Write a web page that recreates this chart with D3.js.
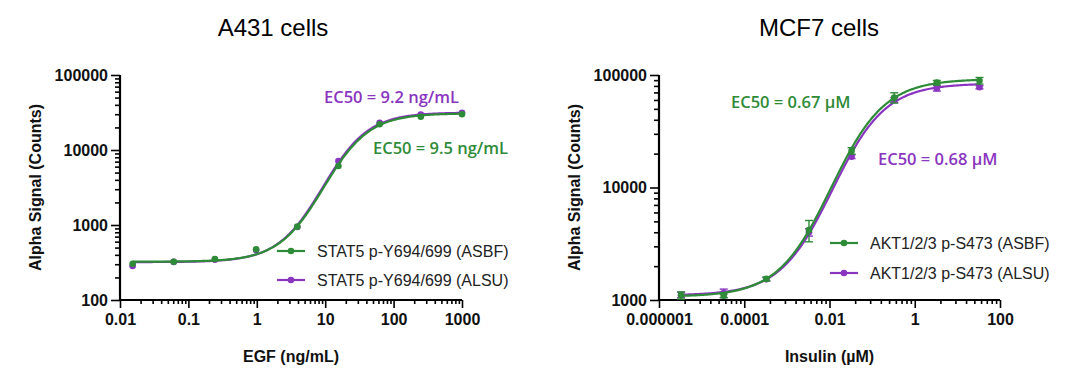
<!DOCTYPE html>
<html><head><meta charset="utf-8">
<script src="https://cdn.jsdelivr.net/npm/d3@7"></script>
<style>
body{margin:0;background:#fff}
svg{display:block}
</style></head><body>
<svg id="chart" width="1080" height="381"></svg>
<script>
// A431 panel
const egfDose = [0.0153, 0.061, 0.244, 0.977, 3.91, 15.6, 62.5, 250, 1000]
const stat5Asbf = [305, 324, 352, 474, 950, 6120, 22000, 27800, 29900]
const stat5Alsu = [285, 322, 345, 465, 940, 7130, 23100, 29800, 31400]
// fitted curve params [bottom, top, mid, hill], fit was done on log signal
const stat5AsbfFit = [324, 30800, 9.5, 1.3]
const stat5AlsuFit = [320, 31600, 9.2, 1.3]
const egfTicks = [0.01, 0.1, 1, 10, 100, 1000]
const a431YTicks = [100, 1000, 10000, 100000]

// MCF7 panel
const insulinDose = [3.3e-6, 3.3e-5, 3.3e-4, 3.3e-3, 0.033, 0.33, 3.3, 33]
const aktAsbf = [1100, 1090, 1540, 4190, 21200, 62900, 85500, 89000]
const aktAsbfSd = [80, 40, 60, 900, 1400, 6600, 3900, 6000]
const aktAlsu = [1110, 1150, 1530, 4000, 18800, 60000, 76200, 77800]
const aktAlsuSd = [60, 100, 50, 300, 700, 3000, 4200, 2500]
const aktAsbfFit = [1070, 92000, 0.0109, 0.69]
const aktAlsuFit = [1100, 84000, 0.0118, 0.7]
const insulinTicks = [1e-6, 1e-4, 1e-2, 1, 100]
const mcf7YTicks = [1000, 10000, 100000]

const green = "#2e8b37"
const purple = "#8a35c0"
const sans = "'Liberation Sans', Arial, sans-serif"
const ecFont = "'Open Sans', sans-serif"

const svg = d3.select("#chart")

// minor ticks k*10^d (step = decades between majors)
const minors = (majors, step) => {
  const out = []
  majors.slice(0, -1).forEach(m => {
    for (let k = 2; k <= 9; k++) out.push(m * Math.pow(k, step))
  })
  return out
}

const fitLine = (p, lo, hi) => {
  const [b, t, mid, h] = p
  const a = Math.log10(lo), z = Math.log10(hi)
  return d3.range(0, 241).map(i => {
    const xv = Math.pow(10, a + (z - a) * i / 240)
    const ly = Math.log10(b) + (Math.log10(t) - Math.log10(b)) / (1 + Math.pow(mid / xv, h))
    return [xv, Math.pow(10, ly)]
  })
}

function panel(cfg) {
  const g = svg.append("g")
  const x = d3.scaleLog().domain(cfg.xDomain).range(cfg.xRange)
  const y = d3.scaleLog().domain(cfg.yDomain).range([300, 75])

  g.append("text").attr("x", cfg.titleX).attr("y", 36)
    .attr("text-anchor", "middle").style("font", `24px ${sans}`).text(cfg.title)

  // axes
  const xMaj = g.append("g").attr("transform", "translate(0,300)")
    .call(d3.axisBottom(x).tickValues(cfg.xTicks).tickFormat(d => cfg.xFmt(d)).tickSize(8).tickPadding(6))
  const xMin = g.append("g").attr("transform", "translate(0,300)")
    .call(d3.axisBottom(x).tickValues(minors(cfg.xTicks, cfg.xStep)).tickFormat("").tickSize(4))
  const yMaj = g.append("g").attr("transform", `translate(${cfg.xRange[0]},0)`)
    .call(d3.axisLeft(y).tickValues(cfg.yTicks).tickFormat(d => String(d)).tickSize(9).tickPadding(3))
  const yMin = g.append("g").attr("transform", `translate(${cfg.xRange[0]},0)`)
    .call(d3.axisLeft(y).tickValues(minors(cfg.yTicks, 1)).tickFormat("").tickSize(5))
  ;[xMaj, xMin, yMaj, yMin].forEach(a => {
    a.select(".domain").attr("stroke", "#000").attr("stroke-width", 2.2)
    a.selectAll(".tick line").attr("stroke", "#000").attr("stroke-width", 1.6)
    a.selectAll(".tick text").style("font", `bold 16px ${sans}`).attr("fill", "#111")
  })
  xMin.select(".domain").remove(); yMin.select(".domain").remove()
  xMaj.select(".domain").attr("d", `M${cfg.xRange[0]},0H${cfg.xRange[1]}`)
  yMaj.select(".domain").attr("d", `M0,301V75`)

  g.append("text").attr("x", (cfg.xRange[0] + cfg.xRange[1]) / 2).attr("y", 362)
    .attr("text-anchor", "middle").style("font", `bold 16px ${sans}`).attr("fill", "#111").text(cfg.xLabel)
  g.append("text").attr("transform", `translate(${cfg.xRange[0] - 79},187.5) rotate(-90)`)
    .attr("text-anchor", "middle").style("font", `bold 16px ${sans}`).attr("fill", "#111").text("Alpha Signal (Counts)")

  const line = d3.line().x(d => x(d[0])).y(d => y(d[1]))
  cfg.series.forEach(s => {
    const lo = cfg.dose[0], hi = cfg.dose[cfg.dose.length - 1]
    g.append("path").datum(fitLine(s.fit, lo, hi)).attr("d", line)
      .attr("fill", "none").attr("stroke", s.color).attr("stroke-width", 2.2)
    if (s.sd) {
      const eb = g.append("g").attr("stroke", s.color).attr("stroke-width", 1.4)
      cfg.dose.forEach((d, i) => {
        const cx = x(d), y1 = y(s.vals[i] + s.sd[i]), y0 = y(Math.max(s.vals[i] - s.sd[i], 1))
        eb.append("line").attr("x1", cx).attr("x2", cx).attr("y1", y1).attr("y2", y0)
        eb.append("line").attr("x1", cx - 4).attr("x2", cx + 4).attr("y1", y1).attr("y2", y1)
        eb.append("line").attr("x1", cx - 4).attr("x2", cx + 4).attr("y1", y0).attr("y2", y0)
      })
    }
    g.selectAll(null).data(cfg.dose).join("circle")
      .attr("cx", d => x(d)).attr("cy", (d, i) => y(s.vals[i])).attr("r", 3.3).attr("fill", s.color)
  })

  // legend
  cfg.legend.forEach((l, i) => {
    const s = cfg.series.find(q => q.name === l)
    const ly = cfg.legendY[i], lx = cfg.legendX
    g.append("line").attr("x1", lx).attr("x2", lx + 28).attr("y1", ly).attr("y2", ly)
      .attr("stroke", s.color).attr("stroke-width", 2.2)
    g.append("circle").attr("cx", lx + 14).attr("cy", ly).attr("r", 3.3).attr("fill", s.color)
    g.append("text").attr("x", lx + 40).attr("y", ly).attr("dy", "0.36em")
      .style("font", `16px ${sans}`).attr("fill", "#222").text(l)
  })

  cfg.ec50.forEach(e => {
    g.append("text").attr("x", e.x).attr("y", e.y).attr("dy", "0.36em")
      .style("font", `600 16.5px ${ecFont}`).attr("fill", e.color).text(e.text)
  })
}

panel({
  title: "A431 cells", titleX: 273, xLabel: "EGF (ng/mL)",
  xDomain: [0.01, 1000], xRange: [120, 462], xTicks: egfTicks, xStep: 1,
  xFmt: d => String(d),
  yDomain: [100, 100000], yTicks: a431YTicks,
  dose: egfDose,
  series: [
    { name: "STAT5 p-Y694/699 (ALSU)", vals: stat5Alsu, fit: stat5AlsuFit, color: purple },
    { name: "STAT5 p-Y694/699 (ASBF)", vals: stat5Asbf, fit: stat5AsbfFit, color: green }
  ],
  legend: ["STAT5 p-Y694/699 (ASBF)", "STAT5 p-Y694/699 (ALSU)"],
  legendX: 277, legendY: [251, 280],
  ec50: [
    { text: "EC50 = 9.2 ng/mL", x: 324, y: 97, color: purple },
    { text: "EC50 = 9.5 ng/mL", x: 373, y: 148, color: green }
  ]
})

panel({
  title: "MCF7 cells", titleX: 819, xLabel: "Insulin (\u00b5M)",
  xDomain: [1e-6, 100], xRange: [659, 1000], xTicks: insulinTicks, xStep: 2,
  xFmt: d => d < 1 ? d.toFixed(Math.round(-Math.log10(d))) : String(d),
  yDomain: [1000, 100000], yTicks: mcf7YTicks,
  dose: insulinDose,
  series: [
    { name: "AKT1/2/3 p-S473 (ALSU)", vals: aktAlsu, sd: aktAlsuSd, fit: aktAlsuFit, color: purple },
    { name: "AKT1/2/3 p-S473 (ASBF)", vals: aktAsbf, sd: aktAsbfSd, fit: aktAsbfFit, color: green }
  ],
  legend: ["AKT1/2/3 p-S473 (ASBF)", "AKT1/2/3 p-S473 (ALSU)"],
  legendX: 830, legendY: [243, 273],
  ec50: [
    { text: "EC50 = 0.67 \u00b5M", x: 731, y: 102, color: green },
    { text: "EC50 = 0.68 \u00b5M", x: 878, y: 159, color: purple }
  ]
})
</script>
</body></html>
